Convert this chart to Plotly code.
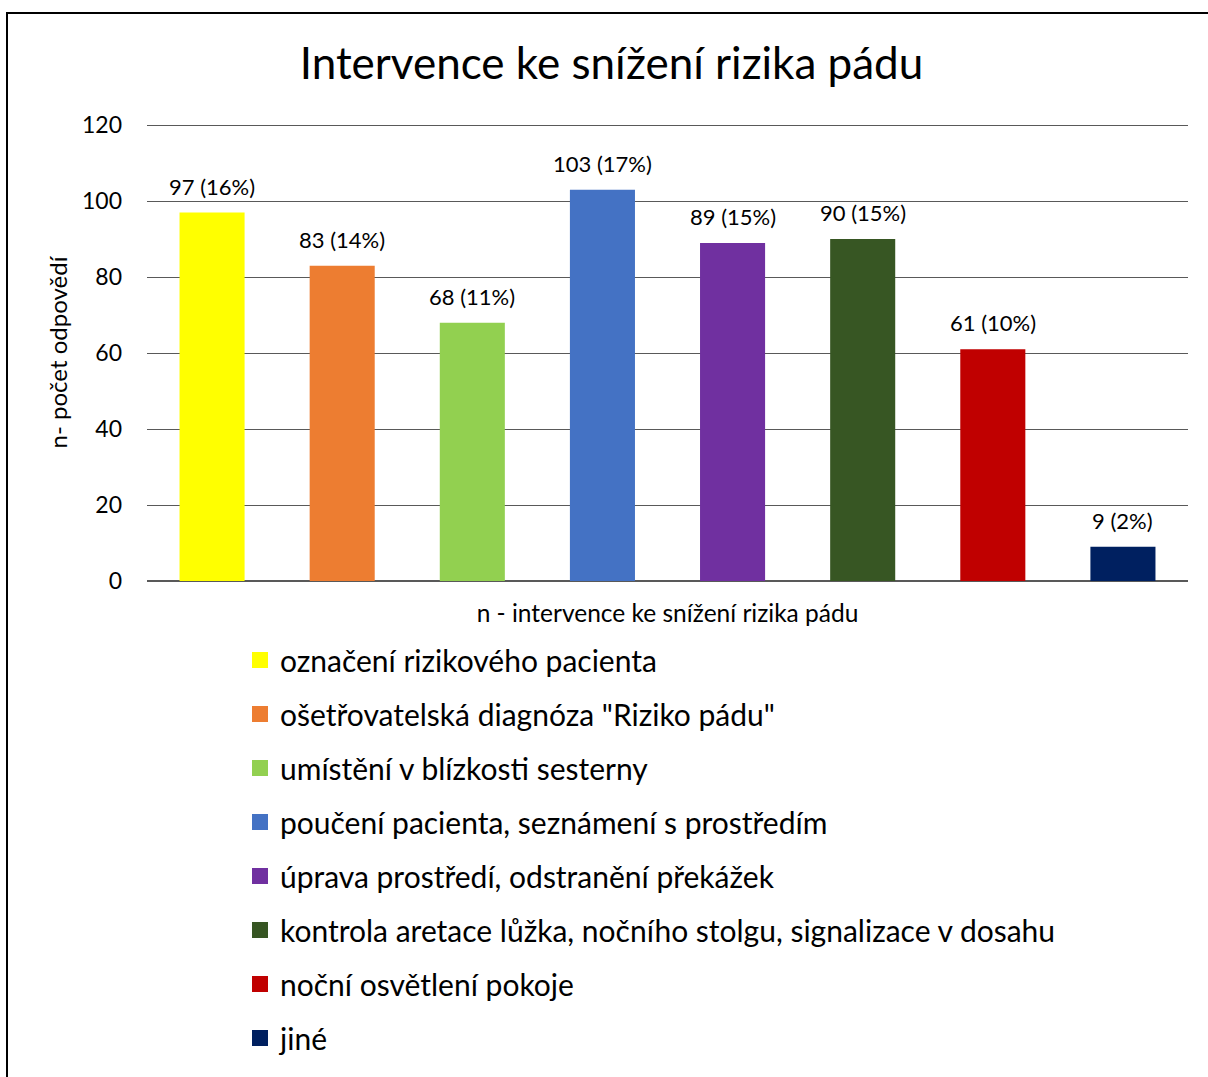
import plotly.graph_objects as go

categories = [
    "označení rizikového pacienta",
    "ošetřovatelská diagnóza \"Riziko pádu\"",
    "umístění v blízkosti sesterny",
    "poučení pacienta, seznámení s prostředím",
    "úprava prostředí, odstranění překážek",
    "kontrola aretace lůžka, nočního stolgu, signalizace v dosahu",
    "noční osvětlení pokoje",
    "jiné",
]
values = [97, 83, 68, 103, 89, 90, 61, 9]
percents = [16, 14, 11, 17, 15, 15, 10, 2]
colors = ["#FFFF00", "#ED7D31", "#92D050", "#4472C4", "#7030A0", "#375623", "#C00000", "#002060"]
y_ticks = [0, 20, 40, 60, 80, 100, 120]

FONT = "Lato"
W, H = 1208, 1077
L, R, T, B = 147, 20, 124, 496
pw = W - L - R
ph = H - T - B

fig = go.Figure()
fig.add_trace(go.Bar(
    x=categories, y=values, marker_color=colors, marker_line_width=0,
    width=0.5, showlegend=False, hoverinfo="x+y",
))
for cat, col in zip(categories, colors):
    fig.add_trace(go.Scatter(
        x=[None], y=[None], mode="markers", name=cat,
        marker=dict(symbol="square", size=16, color=col),
        legendgroup=cat, showlegend=True,
    ))

for cat, v, p in zip(categories, values, percents):
    fig.add_annotation(
        x=cat, y=v, text=f"{v} ({p}%)", showarrow=False,
        yanchor="bottom", yshift=11, font=dict(family=FONT, size=22, color="#000000"),
    )

def px_x(px):
    return (px - L) / pw

def px_y(py):
    return (H - B - py) / ph

fig.add_shape(type="rect", xref="paper", yref="paper",
              x0=px_x(7), x1=px_x(1220), y0=px_y(1090), y1=px_y(13),
              line=dict(color="#000000", width=2), fillcolor="rgba(0,0,0,0)", layer="above")

fig.update_layout(
    width=W, height=H,
    margin=dict(l=L, r=R, t=T, b=B, autoexpand=False),
    paper_bgcolor="white", plot_bgcolor="white",
    font=dict(family=FONT, color="#000000"),
    title=dict(text="Intervence ke snížení rizika pádu", x=611.5 / W, xanchor="center",
               y=1 - 64 / H, yanchor="middle", font=dict(family=FONT, size=44, color="#000000")),
    barmode="overlay",
    xaxis=dict(
        categoryorder="array", categoryarray=categories, showticklabels=False,
        showgrid=False, zeroline=False, showline=False, ticks="",
        range=[-0.5, len(categories) - 0.5],
        title=dict(text="n - intervence ke snížení rizika pádu", standoff=23,
                   font=dict(family=FONT, size=24.5, color="#000000")),
    ),
    yaxis=dict(
        range=[0, 120.3], tickvals=y_ticks, ticktext=[str(t) for t in y_ticks],
        showgrid=True, gridcolor="#595959", gridwidth=1,
        zeroline=True, zerolinecolor="#595959", zerolinewidth=1.5,
        showline=False, ticks="", ticklabelstandoff=24,
        tickfont=dict(family=FONT, size=23, color="#000000"),
        title=dict(text="n- počet odpovědí", standoff=7,
                   font=dict(family=FONT, size=24, color="#000000")),
    ),
    legend=dict(
        x=px_x(240), xanchor="left", y=px_y(634), yanchor="top",
        orientation="v", tracegroupgap=12, traceorder="grouped",
        font=dict(family=FONT, size=30, color="#000000"),
        bgcolor="rgba(0,0,0,0)", itemwidth=30,
    ),
)

fig.write_html("out.html", config={"displayModeBar": False},
               post_script="document.body.style.margin='0px';")
